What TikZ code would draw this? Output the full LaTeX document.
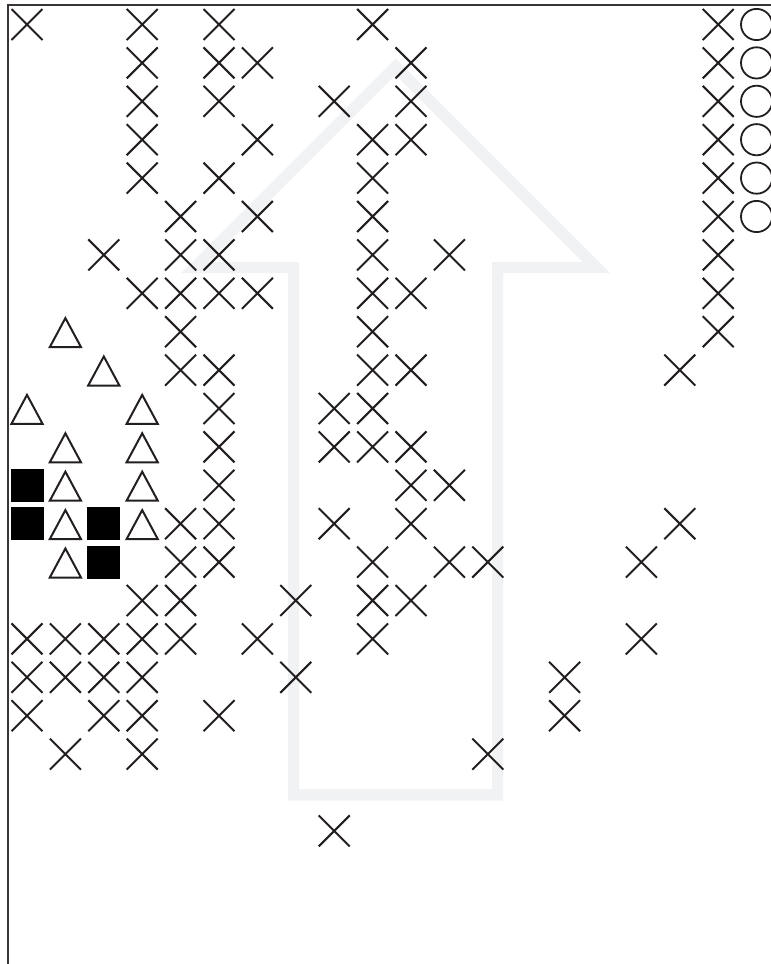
\documentclass[tikz,border=0pt]{standalone}
\usepackage{tikz}
\definecolor{arrowgray}{RGB}{241,242,244}
\definecolor{ink}{RGB}{35,31,32}
\begin{document}
\begin{tikzpicture}[x=1pt,y=-1pt,
  xs/.style={draw=ink,line width=2pt},
  tri/.style={draw=ink,line width=2pt,line join=miter},
  sq/.style={fill=black},
  circ/.style={draw=ink,line width=1.8pt},
  framestyle/.style={draw=ink!90,line width=2pt}]
\useasboundingbox (0,0) rectangle (771,964);
\clip (0,0) rectangle (771,964);
% background arrow outline
\fill[arrowgray,even odd rule]
  (288,800.7) -- (288,273) -- (181,273) -- (395.5,58.5) -- (610,273) -- (503,273) -- (503,800.7) -- cycle
  (299,789.2) -- (299,262) -- (208.3,262) -- (395.5,74.8) -- (582.7,262) -- (492,262) -- (492,789.2) -- cycle;
% frame
\draw[framestyle] (7.7,964) -- (7.7,5.3) -- (771,5.3);
% crosses
\foreach \r/\cols in {0/{0,3,5,9,18},1/{3,5,6,10,18},2/{3,5,8,10,18},3/{3,6,9,10,18},
  4/{3,5,9,18},5/{4,6,9,18},6/{2,4,5,9,11,18},7/{3,4,5,6,9,10,18},8/{4,9,18},
  9/{4,5,9,10,17},10/{5,8,9},11/{5,8,9,10},12/{5,10,11},13/{4,5,8,10,17},
  14/{4,5,9,11,12,16},15/{3,4,7,9,10},16/{0,1,2,3,4,6,9,16},17/{0,1,2,3,7,14},
  18/{0,2,3,5,14},19/{1,3,12},21/{8}}{
  \foreach \c in \cols {
    \draw[xs] ({27+38.4*\c-15.5},{24.5+38.4*\r-15.5}) -- ++(31,31)
              ({27+38.4*\c-15.5},{24.5+38.4*\r+15.5}) -- ++(31,-31);
  }
}
% circles
\foreach \r in {0,...,5}{
  \draw[circ] ({27+38.4*19},{24.5+38.4*\r}) circle[radius=15.6pt];
}
% triangles
\foreach \c/\r in {1/8,2/9,0/10,3/10,1/11,3/11,1/12,3/12,1/13,3/13,1/14}{
  \draw[tri] ({27+38.4*\c},{24.5+38.4*\r-13.6}) -- ++(15.6,29) -- ++(-31.2,0) -- cycle;
}
% squares
\foreach \c/\r in {0/12,0/13,2/13,2/14}{
  \fill[sq] ({27+38.4*\c-16.5},{24.5+38.4*\r-16.5}) rectangle ++(33,33);
}
\end{tikzpicture}
\end{document}
